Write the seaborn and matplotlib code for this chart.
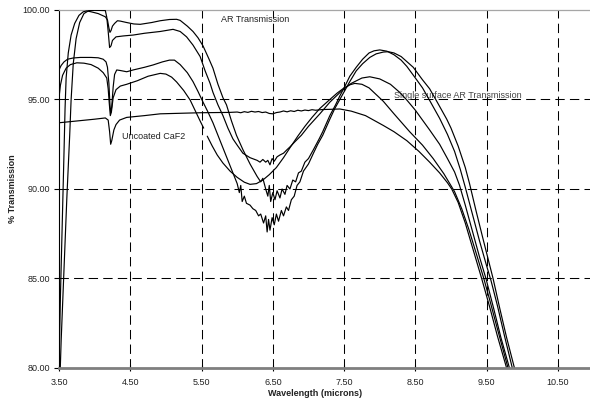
import matplotlib
matplotlib.use("Agg")
import matplotlib.pyplot as plt
import pandas as pd
import seaborn as sns
from matplotlib.ticker import FormatStrFormatter

# ---- data (wavelength in microns, % transmission) ----
ar_1 = [(3.50, 80.0), (3.52, 84.0), (3.545, 88.0), (3.57, 92.0), (3.585, 94.5), (3.60, 96.2),
        (3.63, 97.6), (3.67, 98.6), (3.72, 99.25), (3.78, 99.7), (3.84, 99.9), (3.89, 99.95),
        (3.95, 99.9), (4.05, 99.8), (4.15, 99.62), (4.18, 99.45), (4.20, 99.0), (4.215, 98.75),
        (4.23, 98.85), (4.25, 99.1), (4.28, 99.25), (4.32, 99.4), (4.36, 99.38), (4.45, 99.3),
        (4.55, 99.22), (4.64, 99.2), (4.80, 99.3), (4.92, 99.4), (5.05, 99.47), (5.15, 99.48),
        (5.20, 99.42), (5.30, 99.1), (5.38, 98.8), (5.45, 98.45), (5.52, 98.0), (5.60, 97.3),
        (5.66, 96.75), (5.73, 95.85), (5.80, 95.1), (5.85, 94.7), (5.92, 93.8), (5.99, 93.0),
        (6.08, 92.2), (6.18, 91.4), (6.28, 90.7), (6.33, 90.4), (6.36, 90.6), (6.40, 90.0),
        (6.43, 89.6), (6.45, 90.2), (6.47, 89.3), (6.50, 89.8), (6.53, 89.4), (6.56, 89.9),
        (6.60, 89.5), (6.63, 90.0), (6.67, 89.7), (6.70, 90.2), (6.74, 90.0), (6.78, 90.5),
        (6.82, 90.4), (6.86, 90.9), (6.90, 91.0), (6.95, 91.5), (7.00, 91.7), (7.07, 92.2),
        (7.15, 92.8), (7.20, 93.2), (7.30, 94.1), (7.38, 94.7), (7.44, 95.2), (7.50, 95.65),
        (7.58, 96.3), (7.67, 96.8), (7.76, 97.25), (7.85, 97.6), (7.92, 97.72), (8.00, 97.77),
        (8.10, 97.7), (8.20, 97.5), (8.30, 97.2), (8.38, 96.85), (8.50, 96.2), (8.60, 95.65),
        (8.70, 94.95), (8.84, 93.95), (8.95, 93.05), (9.05, 92.1), (9.13, 91.1), (9.20, 90.1),
        (9.30, 88.6), (9.40, 87.1), (9.50, 85.7), (9.56, 84.9), (9.65, 83.5), (9.75, 81.8),
        (9.86, 80.0), (9.92, 79.0)]

ar_2 = [(3.51, 79.0), (3.53, 81.5), (3.57, 85.5), (3.61, 89.5), (3.65, 93.0), (3.67, 95.0),
        (3.70, 97.0), (3.74, 98.4), (3.79, 99.3), (3.85, 99.8), (3.92, 99.97), (4.00, 99.98),
        (4.15, 99.97), (4.17, 99.6), (4.19, 98.8), (4.21, 97.9), (4.23, 98.0), (4.25, 98.3),
        (4.30, 98.5), (4.40, 98.55), (4.54, 98.6), (4.70, 98.7), (4.92, 98.8), (5.10, 98.92),
        (5.20, 98.8), (5.29, 98.5), (5.38, 98.04), (5.48, 97.4), (5.55, 96.6), (5.62, 95.9),
        (5.66, 95.4), (5.73, 94.7), (5.80, 94.1), (5.87, 93.4), (5.94, 92.8), (6.00, 92.45),
        (6.08, 92.0), (6.18, 91.75), (6.28, 91.6), (6.32, 91.5), (6.36, 91.65), (6.40, 91.5),
        (6.43, 91.6), (6.46, 91.35), (6.49, 91.7), (6.52, 91.55), (6.56, 91.8), (6.60, 91.9),
        (6.65, 92.0), (6.70, 92.2), (6.74, 92.35), (6.80, 92.6), (6.90, 93.0), (7.00, 93.5),
        (7.16, 94.2), (7.30, 94.85), (7.47, 95.5), (7.60, 95.9), (7.75, 96.2), (7.86, 96.27),
        (8.00, 96.15), (8.15, 95.85), (8.28, 95.4), (8.38, 94.97), (8.50, 94.4), (8.60, 93.85),
        (8.70, 93.3), (8.84, 92.5), (8.95, 91.7), (9.05, 90.95), (9.12, 90.2), (9.20, 89.1),
        (9.30, 87.65), (9.40, 86.2), (9.49, 85.0), (9.60, 83.3), (9.70, 81.7), (9.82, 80.0),
        (9.88, 79.0)]

ar_3 = [(3.50, 96.65), (3.53, 96.9), (3.57, 97.1), (3.62, 97.25), (3.70, 97.32), (3.80, 97.35),
        (3.95, 97.35), (4.05, 97.33), (4.12, 97.25), (4.16, 97.1), (4.18, 96.8), (4.20, 95.9),
        (4.215, 94.7), (4.225, 94.25), (4.24, 94.6), (4.26, 95.7), (4.28, 96.4), (4.31, 96.65),
        (4.36, 96.62), (4.45, 96.55), (4.54, 96.65), (4.70, 96.8), (4.82, 96.93), (4.95, 97.1),
        (5.05, 97.2), (5.12, 97.2), (5.20, 96.95), (5.30, 96.5), (5.38, 96.0), (5.45, 95.45),
        (5.52, 94.86), (5.59, 94.3), (5.66, 93.7), (5.72, 93.1), (5.78, 92.5), (5.86, 91.7),
        (5.95, 90.8), (6.00, 90.3), (6.03, 89.8), (6.05, 90.2), (6.07, 89.3), (6.10, 89.6),
        (6.13, 89.2), (6.18, 89.1), (6.22, 88.9), (6.26, 88.8), (6.30, 88.5), (6.33, 88.6),
        (6.37, 88.1), (6.40, 88.5), (6.42, 87.6), (6.44, 88.3), (6.46, 87.7), (6.49, 88.4),
        (6.52, 88.0), (6.55, 88.6), (6.58, 88.2), (6.62, 88.8), (6.65, 88.5), (6.69, 89.0),
        (6.72, 88.8), (6.76, 89.4), (6.80, 89.6), (6.84, 90.2), (6.88, 90.4), (6.93, 91.0),
        (7.00, 91.4), (7.07, 92.0), (7.13, 92.5), (7.20, 93.0), (7.30, 93.9), (7.37, 94.5),
        (7.44, 95.0), (7.51, 95.5), (7.58, 96.0), (7.67, 96.6), (7.76, 97.0), (7.86, 97.35),
        (7.95, 97.55), (8.05, 97.65), (8.12, 97.67), (8.20, 97.6), (8.30, 97.4), (8.47, 96.8),
        (8.60, 96.1), (8.70, 95.6), (8.80, 94.9), (8.94, 93.9), (9.00, 93.4), (9.10, 92.4),
        (9.20, 91.2), (9.26, 90.3), (9.35, 88.8), (9.45, 87.2), (9.52, 86.1), (9.59, 85.0),
        (9.68, 83.4), (9.78, 81.7), (9.89, 80.0), (9.95, 79.0)]

ar_4a = [(3.50, 95.1), (3.52, 95.8), (3.55, 96.35), (3.60, 96.75), (3.66, 96.95), (3.75, 97.05),
         (3.85, 97.03), (3.95, 96.95), (4.05, 96.75), (4.12, 96.5), (4.17, 96.2), (4.19, 95.6),
         (4.205, 94.8), (4.22, 94.1), (4.235, 94.3), (4.26, 95.1), (4.30, 95.55), (4.36, 95.75),
         (4.45, 95.85), (4.60, 96.05), (4.75, 96.3), (4.92, 96.46), (5.00, 96.42), (5.08, 96.25),
         (5.15, 95.98), (5.25, 95.5), (5.34, 94.97), (5.42, 94.3), (5.48, 93.8), (5.53, 93.4)]

ar_4b = [(5.58, 92.95), (5.65, 92.4), (5.72, 91.9), (5.80, 91.45), (5.90, 91.0), (6.00, 90.65),
         (6.10, 90.38), (6.18, 90.26), (6.27, 90.3), (6.36, 90.5), (6.45, 90.8), (6.55, 91.2),
         (6.65, 91.75), (6.74, 92.3), (6.85, 92.95), (6.95, 93.5), (7.05, 94.0), (7.16, 94.5),
         (7.30, 95.0), (7.40, 95.35), (7.50, 95.65), (7.58, 95.82), (7.65, 95.9), (7.75, 95.85),
         (7.85, 95.65), (8.05, 94.9), (8.20, 94.2), (8.42, 93.2), (8.60, 92.45), (8.75, 91.7),
         (8.90, 90.85), (9.05, 89.85), (9.15, 88.9), (9.25, 87.75), (9.35, 86.45), (9.46, 85.0),
         (9.55, 83.7), (9.65, 82.2), (9.80, 80.0), (9.86, 79.0)]

uncoated = [(3.50, 93.7), (3.80, 93.82), (4.00, 93.9), (4.15, 93.97), (4.19, 93.85), (4.21, 93.2),
            (4.225, 92.5), (4.24, 92.7), (4.27, 93.3), (4.30, 93.6), (4.35, 93.85), (4.45, 94.0),
            (4.70, 94.1), (4.92, 94.2), (5.20, 94.23), (5.48, 94.26), (5.90, 94.28), (6.00, 94.3),
            (6.05, 94.26), (6.10, 94.32), (6.15, 94.28), (6.20, 94.34), (6.25, 94.3), (6.30, 94.33),
            (6.35, 94.27), (6.40, 94.3), (6.45, 94.22), (6.50, 94.2), (6.55, 94.27), (6.60, 94.3),
            (6.65, 94.36), (6.70, 94.31), (6.75, 94.37), (6.80, 94.33), (6.85, 94.4), (6.90, 94.36),
            (6.95, 94.41), (7.00, 94.38), (7.05, 94.43), (7.10, 94.4), (7.20, 94.44), (7.30, 94.45),
            (7.44, 94.47), (7.60, 94.35), (7.80, 94.1), (8.05, 93.55), (8.20, 93.2), (8.38, 92.7),
            (8.55, 92.1), (8.70, 91.5), (8.84, 90.9), (8.95, 90.35), (9.01, 90.0), (9.10, 89.25),
            (9.20, 88.1), (9.30, 86.75), (9.43, 85.0), (9.55, 83.3), (9.65, 81.8), (9.78, 80.0),
            (9.84, 79.0)]

traces = {"ar_1": ar_1, "ar_2": ar_2, "ar_3": ar_3, "ar_4a": ar_4a, "ar_4b": ar_4b,
          "uncoated": uncoated}

x_ticks = [3.5, 4.5, 5.5, 6.5, 7.5, 8.5, 9.5, 10.5]
y_ticks = [80, 85, 90, 95, 100]

annotations = [("AR Transmission", 5.77, 99.45),
               ("Uncoated CaF2", 4.38, 92.96),
               ("Single surface AR Transmission", 8.20, 95.25)]

rows = [(name, x, y) for name, pts in traces.items() for x, y in pts]
df = pd.DataFrame(rows, columns=["trace", "wl", "T"])

# ---- styling ----
sns.set_style("white")
plt.rcParams["font.family"] = ["Liberation Sans", "DejaVu Sans"]
FS = 6.5

fig = plt.figure(figsize=(5.9, 4.04), dpi=100)
ax = fig.add_axes([59 / 590, 1 - 368 / 404, (590 - 59) / 590, (368 - 10) / 404])

sns.lineplot(data=df, x="wl", y="T", units="trace", estimator=None, sort=False,
             color="black", linewidth=0.85, legend=False, ax=ax, zorder=3)

ax.set_xlim(3.5, 10.95)
ax.set_ylim(80, 100)
ax.set_xticks(x_ticks)
ax.set_yticks(y_ticks)
ax.xaxis.set_major_formatter(FormatStrFormatter("%.2f"))
ax.yaxis.set_major_formatter(FormatStrFormatter("%.2f"))

ax.set_axisbelow(True)
ax.grid(True, color="black", linewidth=0.75, linestyle=(0, (9, 5)))
for val, gl in zip(y_ticks, ax.yaxis.get_gridlines()):
    if val in (80, 100):
        gl.set_visible(False)
for val, gl in zip(x_ticks, ax.xaxis.get_gridlines()):
    if val == 3.5:
        gl.set_visible(False)

ax.spines["right"].set_visible(False)
ax.spines["top"].set_color("#a6a6a6")
ax.spines["top"].set_linewidth(0.9)
ax.spines["left"].set_color("black")
ax.spines["left"].set_linewidth(0.8)
ax.spines["bottom"].set_color("#7f7f7f")
ax.spines["bottom"].set_linewidth(2.0)
ax.spines["bottom"].set_zorder(4)

ax.tick_params(axis="x", bottom=True, direction="inout", length=5, width=0.8,
               color="black", pad=5, labelsize=FS, labelcolor="#222222")
ax.tick_params(axis="y", left=True, direction="out", length=3.5, width=0.8,
               color="black", pad=3, labelsize=FS, labelcolor="#222222")

for txt, x, y in annotations:
    ax.text(x, y, txt, fontsize=FS, va="center", ha="left",
            color="#444444" if txt.startswith("Single") else "#222222", zorder=1)

ax.set_xlabel("Wavelength (microns)", fontsize=FS, fontweight="bold", color="#222222")
ax.set_ylabel("% Transmission", fontsize=FS, fontweight="bold", color="#222222")
ax.xaxis.label.set_va("center")
ax.yaxis.label.set_va("center")
ax.xaxis.set_label_coords((315 - 59) / 531, (368 - 394) / 358)
ax.yaxis.set_label_coords((13 - 59) / 531, 0.5)

fig.savefig("out.png", dpi=100)
